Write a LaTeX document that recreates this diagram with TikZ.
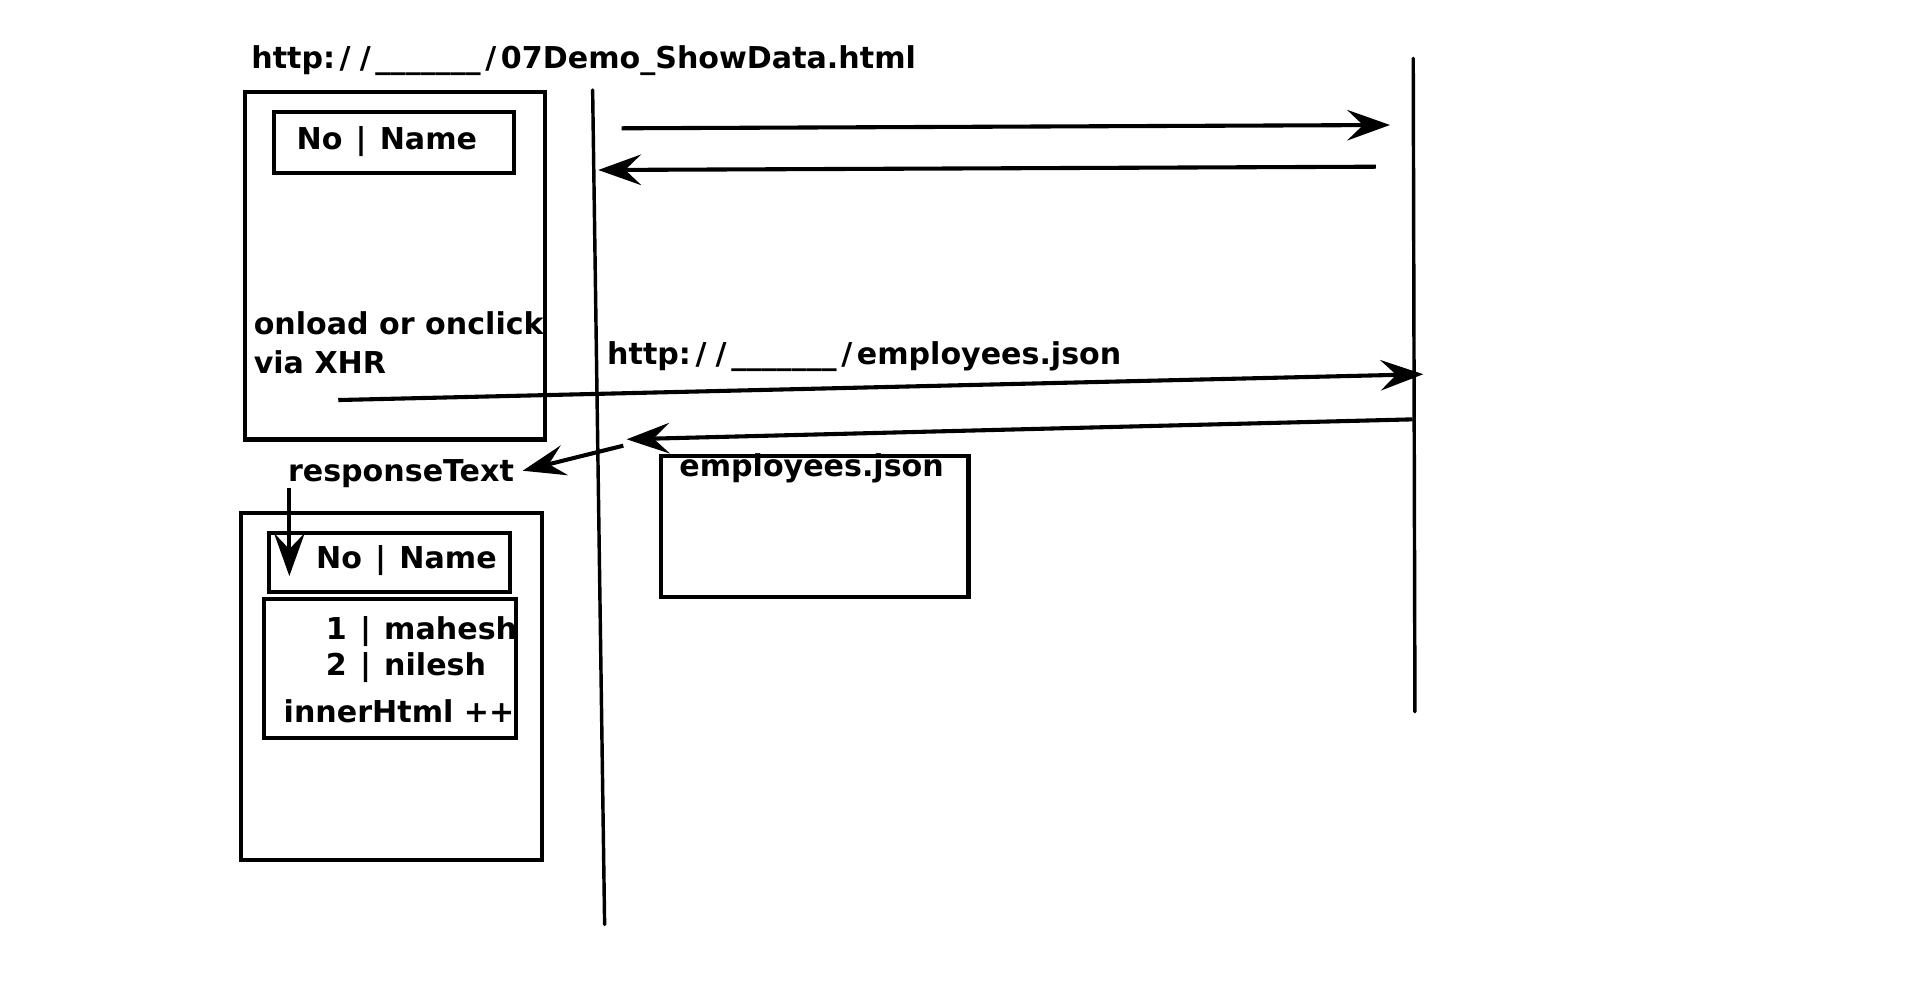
\documentclass[tikz,border=0pt]{standalone}
\usepackage{fontspec}
\setmainfont{DejaVu Sans}
\usetikzlibrary{arrows.meta}
\newcommand{\mysl}{\makebox[0.67em]{/}}
\newcommand{\mybar}{\makebox[0.545em]{\textbar}}
\begin{document}
\begin{tikzpicture}[x=0.01cm,y=-0.01cm,
  lbl/.style={anchor=base west, inner sep=0pt, outer sep=0pt, font=\fontsize{7.0pt}{8.6pt}\selectfont\bfseries},
  frame/.style={draw, line width=0.95pt, inner sep=0pt, outer sep=0pt, anchor=north west},
  life/.style={line width=0.8pt, line cap=round},
  msg/.style={line width=0.95pt, -{Stealth[length=0.35cm,width=0.25cm,inset=0.13cm]}},
]
\useasboundingbox (0,0) rectangle (1570,810.4);

% boxes
\node[frame, minimum width=2.451cm, minimum height=2.842cm] (page1) at (200.3,75) {};
\node[frame, minimum width=1.963cm, minimum height=0.499cm] (head1) at (224,91.3) {};
\node[frame, minimum width=2.458cm, minimum height=2.840cm] (page2) at (197.1,419.2) {};
\node[frame, minimum width=1.968cm, minimum height=0.477cm] (head2) at (220.2,436.1) {};
\node[frame, minimum width=2.055cm, minimum height=1.137cm] (rows) at (216.1,490) {};
\node[frame, minimum width=2.513cm, minimum height=1.153cm] (json) at (540.5,372.6) {};

% texts
\node[lbl] (title) at (205.5,55.9) {http:\mysl\mysl\_\_\_\_\_\_\_\mysl 07Demo\_ShowData.html};
\node[lbl] (h1txt) at (242.5,122.6) {No \mybar{} Name};
\node[lbl] (onload) at (207.5,273.9) {onload or onclick};
\node[lbl] (xhr) at (207.5,305.2) {via XHR};
\node[lbl] (url) at (496.5,298.4) {http:\mysl\mysl\_\_\_\_\_\_\_\mysl employees.json};
\node[lbl] (resp) at (235.5,393.8) {responseText};
\node[lbl] (jsontxt) at (555.5,389.8) {employees.json};
\node[lbl] (h2txt) at (258.5,464.7) {No \mybar{} Name};
\node[lbl] (r1) at (266.5,522.8) {1 \mybar{} mahesh};
\node[lbl] (r2) at (266.5,552.7) {2 \mybar{} nilesh};
\node[lbl] (inner) at (232,590.9) {innerHtml ++};

% lifelines
\coordinate (b1top) at (484.6,73.6);
\coordinate (b1bot) at (494.4,756);
\coordinate (s1top) at (1155.6,47.7);
\coordinate (s1bot) at (1157,582);
\draw[life] (b1top) -- (b1bot);
\draw[life] (s1top) -- (s1bot);

% messages
\coordinate (m1a) at (508.3,104.9);
\coordinate (m1b) at (1136.6,102.2);
\coordinate (m2a) at (1125.1,136.3);
\coordinate (m2b) at (489.2,139);
\coordinate (m3a) at (276.6,327.1);
\coordinate (m3b) at (1163.8,306);
\coordinate (m4a) at (1155,342.9);
\coordinate (m4b) at (512.4,359.2);
\coordinate (m5a) at (509.7,364.4);
\coordinate (m5b) at (427.4,384.9);
\coordinate (m6a) at (236.6,399);
\coordinate (m6b) at (236.6,471);
\draw[msg] (m1a) -- (m1b);
\draw[msg] (m2a) -- (m2b);
\draw[msg] (m3a) -- (m3b);
\draw[msg] (m4a) -- (m4b);
\draw[msg] (m5a) -- (m5b);
\draw[msg] (m6a) -- (m6b);
\end{tikzpicture}
\end{document}
